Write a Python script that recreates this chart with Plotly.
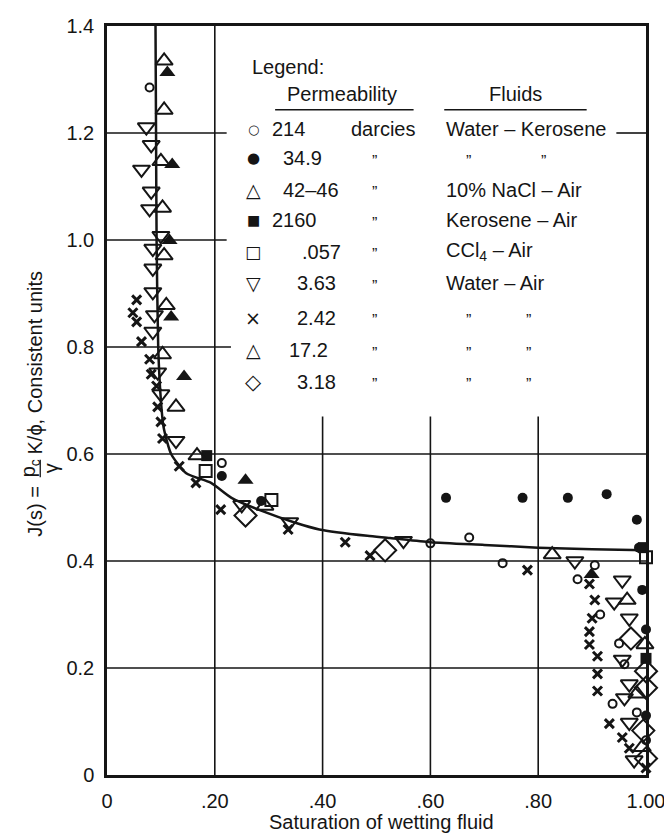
import plotly.graph_objects as go

# ---------------- data ----------------
s_214 = [0.079, 0.213, 0.600, 0.672, 0.734, 0.905, 0.873, 0.915, 0.950, 0.960, 0.938, 0.983, 1.000]
j_214 = [1.285, 0.583, 0.433, 0.444, 0.396, 0.392, 0.366, 0.300, 0.246, 0.207, 0.133, 0.117, 0.065]

s_349 = [0.213, 0.286, 0.629, 0.771, 0.855, 0.927, 0.983, 0.987, 0.993, 1.000, 1.000]
j_349 = [0.559, 0.512, 0.518, 0.518, 0.518, 0.525, 0.477, 0.425, 0.346, 0.272, 0.111]

s_4246 = [0.112, 0.121, 0.116, 0.119, 0.143, 0.257, 0.899]
j_4246 = [1.313, 1.141, 0.999, 0.856, 0.745, 0.551, 0.375]

s_2160 = [0.185, 0.995, 1.000]
j_2160 = [0.597, 0.425, 0.218]

s_057 = [0.183, 0.305, 1.000]
j_057 = [0.568, 0.514, 0.407]

s_363 = [0.073, 0.082, 0.064, 0.082, 0.079, 0.100, 0.085, 0.085, 0.085, 0.088, 0.085, 0.094,
         0.100, 0.128, 0.250, 0.339, 0.550, 0.868, 0.956, 0.941, 0.969, 0.956, 0.969, 0.960,
         0.969, 0.978]
j_363 = [1.211, 1.178, 1.132, 1.091, 1.058, 1.008, 0.984, 0.947, 0.903, 0.860, 0.829, 0.753,
         0.712, 0.625, 0.505, 0.473, 0.438, 0.400, 0.364, 0.323, 0.293, 0.216, 0.170, 0.144,
         0.098, 0.028]

s_242 = [0.055, 0.048, 0.055, 0.064, 0.079, 0.082, 0.092, 0.094, 0.100, 0.103, 0.134, 0.165,
         0.211, 0.336, 0.442, 0.488, 0.780, 0.895, 0.905, 0.900, 0.895, 0.895, 0.910, 0.910,
         0.910, 0.932, 0.956, 0.969, 1.000]
j_242 = [0.888, 0.864, 0.847, 0.810, 0.777, 0.749, 0.727, 0.688, 0.660, 0.629, 0.577, 0.546,
         0.496, 0.459, 0.435, 0.410, 0.383, 0.357, 0.327, 0.293, 0.268, 0.244, 0.222, 0.189,
         0.157, 0.096, 0.070, 0.050, 0.013]

s_172 = [0.106, 0.106, 0.100, 0.103, 0.106, 0.110, 0.103, 0.128, 0.167, 0.293, 0.826, 0.965,
         0.998, 0.983, 0.993]
j_172 = [1.335, 1.243, 1.147, 1.060, 0.971, 0.878, 0.786, 0.688, 0.597, 0.503, 0.412, 0.327,
         0.244, 0.152, 0.052]

s_318 = [0.257, 0.516, 0.972, 1.000, 1.000, 0.995, 1.000]
j_318 = [0.485, 0.420, 0.255, 0.194, 0.163, 0.083, 0.031]

# fitted J-function curve
s_curve = [0.090, 0.091, 0.092, 0.095, 0.100, 0.105, 0.119, 0.147, 0.193, 0.231, 0.286,
           0.348, 0.394, 0.483, 0.525, 0.600, 0.700, 0.800, 0.900, 1.000]
j_curve = [1.400, 1.200, 1.000, 0.800, 0.700, 0.650, 0.600, 0.564, 0.546, 0.518, 0.494,
           0.472, 0.459, 0.447, 0.443, 0.435, 0.430, 0.425, 0.422, 0.420]

x_ticks = [0, 0.2, 0.4, 0.6, 0.8, 1.0]
x_ticktext = ["0", ".20", ".40", ".60", ".80", "1.00"]
y_ticks = [0, 0.2, 0.4, 0.6, 0.8, 1.0, 1.2, 1.4]
y_ticktext = ["0", "0.2", "0.4", "0.6", "0.8", "1.0", "1.2", "1.4"]

leg_symbols = ["○", "●", "△", "■", "□", "▽", "×", "△", "◇"]
leg_perm = ["214", "34.9", "42–46", "2160", ".057", "3.63", "2.42", "17.2", "3.18"]
leg_unit = ["darcies", "”", "”", "”", "”", "”", "”", "”", "”"]
leg_fluid = ["Water – Kerosene", None, "10% NaCl – Air", "Kerosene – Air",
             "CCl<sub>4</sub> – Air", "Water – Air", None, None, None]

# ---------------- figure ----------------
# the page body adds an 8 px offset; size the figure so the plot area lands
# at x 107..652 and y 15..775 of the 672x839 window
OFF = 8
W, H = 672 - OFF, 839 - OFF
X0, X1, Y0, Y1 = 107, 652, 15, 775      # plot area in window pixels
L, T = X0 - OFF, Y0 - OFF
R, B = 672 - X1, 839 - Y1
PW, PH = X1 - X0, Y1 - Y0
FONT = "Liberation Sans, Arial, sans-serif"
INK = "#151515"


def px(x):
    return (x - X0) / PW


def py(y):
    return (Y1 - y) / PH


fig = go.Figure()

fig.add_trace(go.Scatter(x=s_curve, y=j_curve, mode="lines",
                         line=dict(color=INK, width=2.5, shape="spline", smoothing=0.6),
                         hoverinfo="skip", showlegend=False))

series = [
    (s_214, j_214, "circle-open", 8, 2),
    (s_349, j_349, "circle", 10, 0),
    (s_4246, j_4246, "triangle-up", 14, 0),
    (s_2160, j_2160, "square", 11, 0),
    (s_057, j_057, "square-open", 12, 2),
    (s_363, j_363, "triangle-down-open", 15, 2),
    (s_242, j_242, "x-thin-open", 9, 3),
    (s_172, j_172, "triangle-up-open", 15, 2),
    (s_318, j_318, "diamond-open", 17, 2),
]
for (sx, jy, sym, size, lw), name in zip(series, leg_perm):
    fig.add_trace(go.Scatter(
        x=sx, y=jy, mode="markers", name=name, showlegend=False, cliponaxis=False,
        marker=dict(symbol=sym, size=size, color=INK, line=dict(color=INK, width=lw)),
    ))

# ---------------- grid (partial lines as in the original) ----------------
shapes = []
gl = dict(color=INK, width=1.6)
shapes.append(dict(type="line", xref="x", yref="y", x0=0.2, x1=0.2, y0=0, y1=1.4, line=gl, layer="below"))
for xv in [0.4, 0.6, 0.8]:
    shapes.append(dict(type="line", xref="x", yref="y", x0=xv, x1=xv, y0=0, y1=0.67, line=gl, layer="below"))
for yv in [0.2, 0.4, 0.6]:
    shapes.append(dict(type="line", xref="x", yref="y", x0=0, x1=1.0, y0=yv, y1=yv, line=gl, layer="below"))
shapes.append(dict(type="line", xref="x", yref="y", x0=0, x1=0.23, y0=0.8, y1=0.8, line=gl, layer="below"))
shapes.append(dict(type="line", xref="x", yref="y", x0=0, x1=0.222, y0=1.0, y1=1.0, line=gl, layer="below"))
shapes.append(dict(type="line", xref="x", yref="y", x0=0, x1=0.222, y0=1.2, y1=1.2, line=gl, layer="below"))
shapes.append(dict(type="line", xref="x", yref="y", x0=0.945, x1=1.0, y0=1.2, y1=1.2, line=gl, layer="below"))
# legend heading underlines
shapes.append(dict(type="line", xref="paper", yref="paper", x0=px(277), x1=px(417), y0=py(100), y1=py(100),
                   line=dict(color=INK, width=1.5)))
shapes.append(dict(type="line", xref="paper", yref="paper", x0=px(448), x1=px(592), y0=py(100), y1=py(100),
                   line=dict(color=INK, width=1.5)))
# fraction bar of the y-axis title
shapes.append(dict(type="line", xref="paper", yref="paper", x0=px(39.5), x1=px(39.5), y0=py(455), y1=py(473),
                   line=dict(color=INK, width=1.3)))

# ---------------- annotations ----------------
ann = []


def text(x, y, s, size=20, xanchor="left", family=FONT, **kw):
    ann.append(dict(xref="paper", yref="paper", x=px(x), y=py(y), text=s, showarrow=False,
                    xanchor=xanchor, yanchor="middle", font=dict(size=size, family=family, color=INK), **kw))


text(252, 57, "Legend:")
text(345, 84, "Permeability", xanchor="center")
text(520, 84, "Fluids", xanchor="center")

rows_y = [120, 149, 181, 212, 244, 276, 311, 344, 376]
perm_x = [272, 283, 283, 272, 302, 297, 297, 289, 297]
sym_size = [13, 15, 19, 14, 17, 19, 19, 19, 21]
for i, y in enumerate(rows_y):
    text(255, y, leg_symbols[i], size=sym_size[i], xanchor="center", family="DejaVu Sans")
    text(perm_x[i], y, leg_perm[i])
    if leg_unit[i] == "darcies":
        text(352, y, "darcies")
    else:
        text(377, y + 3, leg_unit[i], size=16, xanchor="center")
    if leg_fluid[i]:
        text(448, y, leg_fluid[i])
    elif i == 1:
        text(473, y + 3, "”", size=16, xanchor="center")
        text(548, y + 3, "”", size=16, xanchor="center")
    else:
        text(473, y + 3, "”", size=16, xanchor="center")
        text(533, y + 3, "”", size=16, xanchor="center")

# axis titles
text(385, 823, "Saturation of wetting fluid", xanchor="center")
text(34, 507, "J(s) =", xanchor="center", textangle=-90)
text(29, 464, "p<sub>c</sub>", xanchor="center", textangle=-90)
text(50, 464, "γ", xanchor="center", textangle=-90)
ann.append(dict(xref="paper", yref="paper", x=px(34), y=py(452), text="K/ϕ, Consistent units", showarrow=False,
                xanchor="center", yanchor="bottom", textangle=-90, font=dict(size=20, family=FONT, color=INK)))

fig.update_layout(
    width=W, height=H, margin=dict(l=L, r=R, t=T, b=B),
    paper_bgcolor="white", plot_bgcolor="white",
    font=dict(family=FONT, size=20, color=INK),
    shapes=shapes, annotations=ann, showlegend=False,
    xaxis=dict(range=[0, 1.0], tickvals=x_ticks, ticktext=x_ticktext, showgrid=False, zeroline=False,
               showline=True, mirror=True, linecolor=INK, linewidth=2.5, ticks="", ticklabelstandoff=6,
               ticklabeloverflow="allow", tickfont=dict(size=20)),
    yaxis=dict(range=[0, 1.4], tickvals=y_ticks, ticktext=y_ticktext, showgrid=False, zeroline=False,
               showline=True, mirror=True, linecolor=INK, linewidth=2.5, ticks="", ticklabelstandoff=6,
               ticklabeloverflow="allow", tickfont=dict(size=20)),
)

fig.write_html("out.html")
